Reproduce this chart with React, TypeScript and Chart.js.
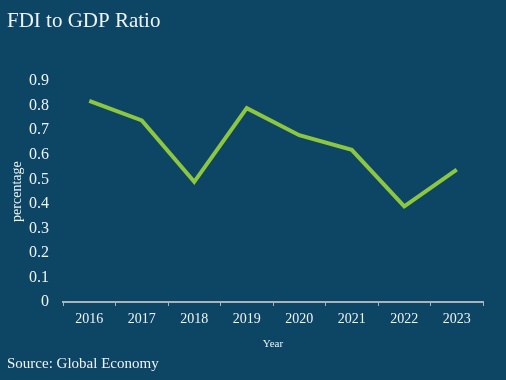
import React, { useEffect, useRef } from "react";
import { Chart, registerables } from "chart.js";

Chart.register(...registerables);

const years = ["2016", "2017", "2018", "2019", "2020", "2021", "2022", "2023"];
const ratio = [0.82, 0.74, 0.49, 0.79, 0.68, 0.62, 0.39, 0.54];

const BG = "#0d4565";
const TXT = "#eef3f6";
const FONT = "'Liberation Serif', 'Times New Roman', serif";

export default function App() {
  const ref = useRef<HTMLCanvasElement | null>(null);

  useEffect(() => {
    if (!ref.current) return;
    const chart = new Chart(ref.current, {
      type: "line",
      data: {
        labels: years,
        datasets: [
          {
            data: ratio,
            borderColor: "#8dc63f",
            borderWidth: 4,
            pointRadius: 0,
            tension: 0,
            fill: false,
          },
        ],
      },
      options: {
        animation: false,
        responsive: false,
        maintainAspectRatio: false,
        layout: { padding: { left: 7, right: 23, top: 0, bottom: 0 } },
        plugins: {
          legend: { display: false },
          tooltip: { enabled: false },
          title: {
            display: true,
            text: "FDI to GDP Ratio",
            align: "start",
            color: TXT,
            font: { family: FONT, size: 21, weight: "normal" },
            padding: { top: 9, bottom: 47 },
          },
          subtitle: {
            display: true,
            position: "bottom",
            text: "Source: Global Economy",
            align: "start",
            color: TXT,
            font: { family: FONT, size: 15, weight: "normal" },
            padding: { top: 4, bottom: 7 },
          },
        },
        scales: {
          x: {
            offset: true,
            grid: {
              display: true,
              drawOnChartArea: false,
              drawTicks: true,
              tickLength: 4,
              offset: true,
              color: "#a8b3bb",
            },
            border: { display: true, color: "#a8b3bb", width: 2 },
            ticks: {
              color: TXT,
              font: { family: FONT, size: 14 },
              padding: 5,
              maxRotation: 0,
            },
            title: {
              display: true,
              text: "Year",
              color: TXT,
              font: { family: FONT, size: 11 },
              padding: { top: 5, bottom: 0 },
            },
          },
          y: {
            min: 0,
            max: 0.9,
            afterFit: (scale: any) => {
              scale.width = 56;
            },
            grid: { display: false, drawTicks: false },
            border: { display: false },
            ticks: {
              stepSize: 0.1,
              color: TXT,
              font: { family: FONT, size: 16 },
              padding: 14,
            },
            title: {
              display: true,
              text: "percentage",
              color: TXT,
              font: { family: FONT, size: 14 },
              padding: { top: 2, bottom: 6 },
            },
          },
        },
      },
    });
    return () => chart.destroy();
  }, []);

  return (
    <div
      style={{
        position: "fixed",
        left: 0,
        top: 0,
        width: 506,
        height: 380,
        background: BG,
      }}
    >
      <canvas ref={ref} width={506} height={380} style={{ display: "block" }} />
    </div>
  );
}
